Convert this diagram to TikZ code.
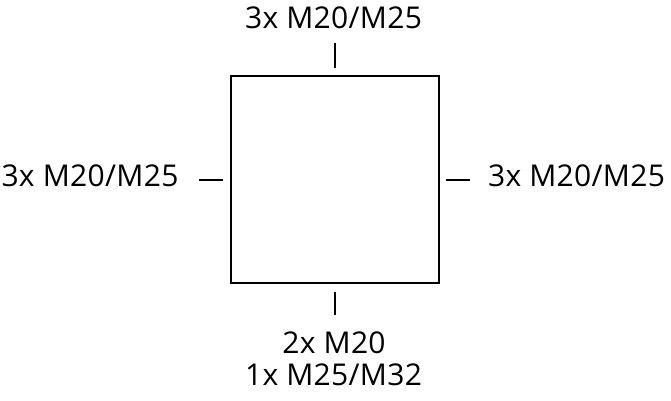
\documentclass[tikz,border=0pt]{standalone}
\usepackage{fontspec}
\setmainfont{Open Sans}[LetterSpace=1.0]
\begin{document}
\begin{tikzpicture}[x=1pt,y=1pt,
  lbl/.style={font=\fontsize{30}{32}\selectfont, inner sep=0pt, anchor=base},
  tick/.style={line width=2pt},
  boxst/.style={draw, line width=1.5pt, minimum width=208pt, minimum height=207pt, inner sep=0pt}]
\useasboundingbox (0,0) rectangle (671,400);
\node[boxst] (box) at (335,220.5) {};
% tick end points
\coordinate (t1) at (335,357); \coordinate (t2) at (335,332);
\coordinate (b1) at (335,108); \coordinate (b2) at (335,85);
\coordinate (l1) at (199,220); \coordinate (l2) at (223,220);
\coordinate (r1) at (446,220); \coordinate (r2) at (470,220);
\draw[tick] (t1) -- (t2);
\draw[tick] (b1) -- (b2);
\draw[tick] (l1) -- (l2);
\draw[tick] (r1) -- (r2);
\node[lbl] (top) at (333.5,371.5) {3x M20/M25};
\node[lbl] (left) at (90,214) {3x M20/M25};
\node[lbl] (right) at (576.5,214) {3x M20/M25};
\node[lbl] (bot1) at (334,47) {2x M20};
\node[lbl] (bot2) at (333.5,15) {1x M25/M32};
\end{tikzpicture}
\end{document}
